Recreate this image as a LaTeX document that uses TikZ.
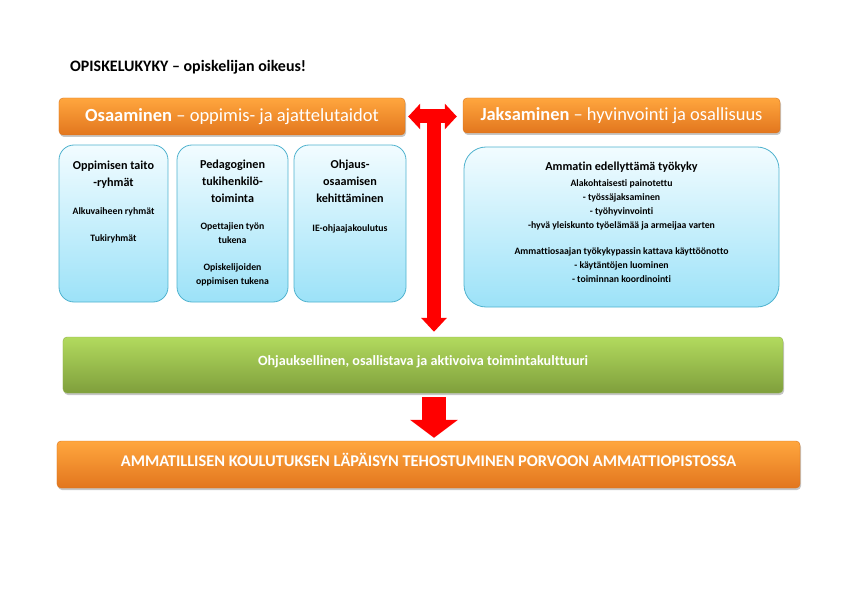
\documentclass[tikz,border=0pt]{standalone}
\usepackage{fontspec}
\setmainfont{Carlito}[Ligatures=NoCommon]
\usetikzlibrary{arrows.meta,shadows,calc}
\definecolor{orgtop}{HTML}{FFA63E}
\definecolor{orgbot}{HTML}{E2761E}
\definecolor{orgedge}{HTML}{D9741C}
\definecolor{grntop}{HTML}{B2DA5E}
\definecolor{grnbot}{HTML}{7F9F3C}
\definecolor{grnedge}{HTML}{8FB04A}
\definecolor{blutop}{HTML}{F2FCFF}
\definecolor{blubot}{HTML}{9CE2F8}
\definecolor{bluedge}{HTML}{4FB2CE}
\tikzset{
  orangebox/.style={draw=orgedge, top color=orgtop, bottom color=orgbot, rounded corners=4bp,
    drop shadow={shadow xshift=1bp, shadow yshift=-2bp, opacity=0.45}, text=white, inner sep=0pt},
  greenbox/.style={draw=grnedge, top color=grntop, bottom color=grnbot, rounded corners=4bp,
    drop shadow={shadow xshift=1bp, shadow yshift=-2bp, opacity=0.45}, text=white, inner sep=0pt},
  bluebox/.style={draw=bluedge, line width=0.8bp, top color=blutop, bottom color=blubot, rounded corners=15bp},
  headtext/.style={anchor=north, align=center, inner sep=0pt, font=\bfseries\fontsize{12.2}{17}\selectfont},
  bodytext/.style={anchor=north, align=center, inner sep=0pt, font=\bfseries\fontsize{9.8}{14}\selectfont},
  redarrow/.style={draw=red, line width=14bp}
}
\begin{document}
\begin{tikzpicture}[x=1bp, y=-1bp, font=\bfseries]
  \useasboundingbox (0,0) rectangle (842,595);
  % otsikko
  \node[anchor=west, inner sep=0pt, font=\bfseries\fontsize{16}{18}\selectfont] (title) at (70,67) {OPISKELUKYKY – opiskelijan oikeus!};

  % oranssit otsikkolaatikot
  \node[orangebox, minimum width=346bp, minimum height=37bp, font=\fontsize{18.6}{20}\selectfont] (osa) at (232,116.5)
    {\textbf{Osaaminen} – oppimis- ja ajattelutaidot};
  \node[orangebox, minimum width=317bp, minimum height=35bp, font=\fontsize{18.5}{20}\selectfont] (jak) at (621.5,115.5)
    {\textbf{Jaksaminen} – hyvinvointi ja osallisuus};

  % siniset laatikot
  \node[bluebox, minimum width=109bp, minimum height=157bp] (boxA) at (113.5,223.5) {};
  \node[bluebox, minimum width=111bp, minimum height=157bp] (boxB) at (232.5,223.5) {};
  \node[bluebox, minimum width=112bp, minimum height=157bp] (boxC) at (350,223.5) {};
  \node[bluebox, minimum width=315bp, minimum height=160bp, rounded corners=22bp] (big) at (621.5,227) {};

  \node[headtext] (hA) at ([yshift=-16.5bp]boxA.north) {Oppimisen taito\\-ryhmät};
  \node[bodytext] (bA) at ([yshift=-63bp]boxA.north) {Alkuvaiheen ryhmät\\[13bp]Tukiryhmät};
  \node[headtext] (hB) at ([yshift=-15bp]boxB.north) {Pedagoginen\\tukihenkilö-\\toiminta};
  \node[bodytext] (bB) at ([yshift=-78bp]boxB.north) {Opettajien työn\\tukena\\[13bp]Opiskelijoiden\\oppimisen tukena};
  \node[headtext] (hC) at ([yshift=-15bp]boxC.north) {Ohjaus-\\osaamisen\\kehittäminen};
  \node[bodytext] (bC) at ([yshift=-80bp]boxC.north) {IE-ohjaajakoulutus};
  \node[headtext] (hBig) at ([yshift=-15.5bp]big.north) {Ammatin edellyttämä työkyky};
  \node[bodytext] (bBig) at ([yshift=-33bp]big.north)
    {Alakohtaisesti painotettu\\- työssäjaksaminen\\- työhyvinvointi\\-hyvä yleiskunto työelämää ja armeijaa varten\\[12bp]Ammattiosaajan työkykypassin kattava käyttöönotto\\- käytäntöjen luominen\\- toiminnan koordinointi};

  % vihreä ja alin laatikko
  \node[greenbox, minimum width=720bp, minimum height=56bp, text depth=9bp, font=\bfseries\fontsize{14.2}{16}\selectfont] (kult) at (423,365)
    {Ohjauksellinen, osallistava ja aktivoiva toimintakulttuuri};
  \node[orangebox, minimum width=743bp, minimum height=47bp, text depth=9bp, font=\bfseries\fontsize{16.4}{18}\selectfont] (goal) at (428.5,464.5)
    {AMMATILLISEN KOULUTUKSEN LÄPÄISYN TEHOSTUMINEN PORVOON AMMATTIOPISTOSSA};

  % punaiset nuolet
  \coordinate (mid) at ($(osa.east)!0.5!(jak.west |- osa.east)$);
  \draw[redarrow, {Triangle[width=25bp,length=12bp]}-{Triangle[width=25bp,length=12bp]}, shorten <=3bp, shorten >=6bp]
    (osa.east) -- (jak.west |- osa.east);
  \draw[redarrow, -{Triangle[width=25bp,length=14bp]}, shorten >=5bp] (mid) -- (mid |- kult.north);
  \draw[redarrow, line width=24bp, -{Triangle[width=47bp,length=18bp]}, shorten <=4bp, shorten >=3bp]
    (mid |- kult.south) -- (mid |- goal.north);
\end{tikzpicture}
\end{document}
